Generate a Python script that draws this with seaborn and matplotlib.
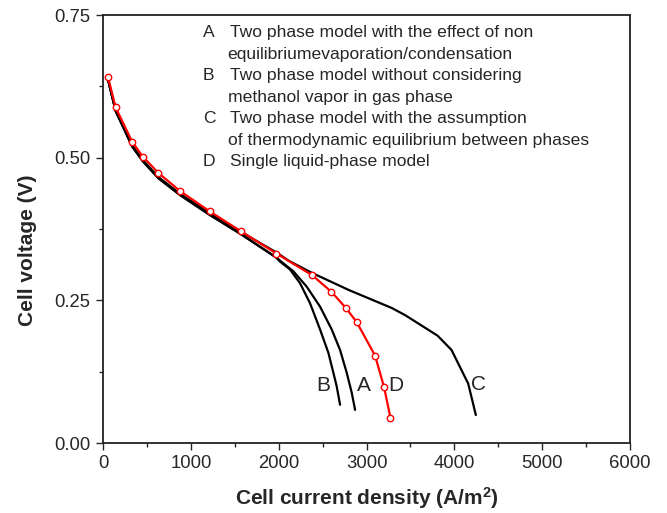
import matplotlib
matplotlib.use("Agg")
import matplotlib.pyplot as plt
from matplotlib.ticker import MultipleLocator, AutoMinorLocator, FormatStrFormatter
import seaborn as sns
import pandas as pd

# ---- data ----
D_x = [57, 144, 331, 452, 631, 882, 1213, 1570, 1975, 2382, 2600, 2763, 2888, 3098, 3200, 3273]
D_y = [0.641, 0.588, 0.528, 0.502, 0.473, 0.441, 0.406, 0.371, 0.332, 0.294, 0.265, 0.237, 0.212, 0.153, 0.098, 0.044]

C_x = [57, 144, 331, 452, 631, 882, 1213, 1570, 1973, 2119, 2380, 2800, 3289, 3440, 3810, 3968, 4158, 4245]
C_y = [0.637, 0.582, 0.522, 0.496, 0.466, 0.436, 0.403, 0.370, 0.334, 0.319, 0.298, 0.268, 0.2365, 0.224, 0.188, 0.163, 0.104, 0.049]

A_x = [57, 144, 331, 452, 631, 882, 1213, 1570, 1973, 2060, 2167, 2319, 2471, 2604, 2699, 2775, 2832, 2870]
A_y = [0.637, 0.582, 0.520, 0.494, 0.464, 0.434, 0.400, 0.366, 0.325, 0.314, 0.301, 0.274, 0.239, 0.199, 0.163, 0.123, 0.088, 0.058]

B_x = [57, 144, 331, 452, 631, 882, 1213, 1570, 1973, 2015, 2129, 2243, 2357, 2471, 2566, 2623, 2661, 2699]
B_y = [0.637, 0.582, 0.520, 0.494, 0.464, 0.434, 0.400, 0.366, 0.325, 0.318, 0.304, 0.280, 0.245, 0.199, 0.158, 0.123, 0.099, 0.067]

legend_letters = ["A", "", "B", "", "C", "", "D"]
legend_lines = [
    "Two phase model with the effect of non",
    "equilibriumevaporation/condensation",
    "Two phase model without considering",
    "methanol vapor in gas phase",
    "Two phase model with the assumption",
    "of thermodynamic equilibrium between phases",
    "Single liquid-phase model",
]
legend_y = [0.7195, 0.6816, 0.6436, 0.6063, 0.5688, 0.5302, 0.4934]

curve_labels = ["B", "A", "D", "C"]
curve_label_x = [2505, 2968, 3329, 4272]
curve_label_y = [0.100, 0.100, 0.100, 0.102]

x_label = "Cell current density (A/m$^2$)"
y_label = "Cell voltage (V)"

# ---- style ----
sns.set_style("ticks")
plt.rcParams["font.family"] = ["Liberation Sans", "DejaVu Sans"]
plt.rcParams["mathtext.fontset"] = "custom"
plt.rcParams["mathtext.rm"] = "Liberation Sans:bold"
plt.rcParams["mathtext.it"] = "Liberation Sans:bold"
plt.rcParams["mathtext.bf"] = "Liberation Sans:bold"

fig = plt.figure(figsize=(6.67, 5.13), dpi=100)
ax = fig.add_axes([103 / 667, 1 - 443 / 513, (630 - 103) / 667, (443 - 15) / 513])

for xs, ys in [(A_x, A_y), (B_x, B_y), (C_x, C_y)]:
    sns.lineplot(x=xs, y=ys, ax=ax, color="black", linewidth=1.6, sort=False, estimator=None)

sns.lineplot(x=D_x, y=D_y, ax=ax, color="#ff0000", linewidth=1.6, sort=False, estimator=None,
             marker="o", markersize=4.6, markerfacecolor="white", markeredgecolor="#ff0000",
             markeredgewidth=1.0)

ax.set_xlim(0, 6000)
ax.set_ylim(0, 0.75)
ax.xaxis.set_major_locator(MultipleLocator(1000))
ax.xaxis.set_minor_locator(AutoMinorLocator(2))
ax.yaxis.set_major_locator(MultipleLocator(0.25))
ax.yaxis.set_minor_locator(AutoMinorLocator(2))
ax.yaxis.set_major_formatter(FormatStrFormatter("%.2f"))
ax.tick_params(axis="both", which="major", direction="out", length=5, width=1.0,
               labelsize=13.3, pad=4, top=False, right=False)
ax.tick_params(axis="both", which="minor", direction="out", length=3, width=1.0,
               top=False, right=False)
for sp in ax.spines.values():
    sp.set_visible(True)
    sp.set_linewidth(1.3)
    sp.set_color("#222222")

ax.set_xlabel(x_label, fontsize=15, fontweight="bold", labelpad=9)
ax.set_ylabel(y_label, fontsize=15, fontweight="bold")
ax.yaxis.set_label_coords(-0.125, 0.45)

for letter, line, y in zip(legend_letters, legend_lines, legend_y):
    if letter:
        ax.text(1139, y, letter, fontsize=12.6, va="center", ha="left")
    ax.text(1446 if letter else 1420, y, line, fontsize=12.6, va="center", ha="left")

for lab, lx, ly in zip(curve_labels, curve_label_x, curve_label_y):
    ax.text(lx, ly, lab, fontsize=15, ha="center", va="center")

fig.savefig("out.png", dpi=100)
